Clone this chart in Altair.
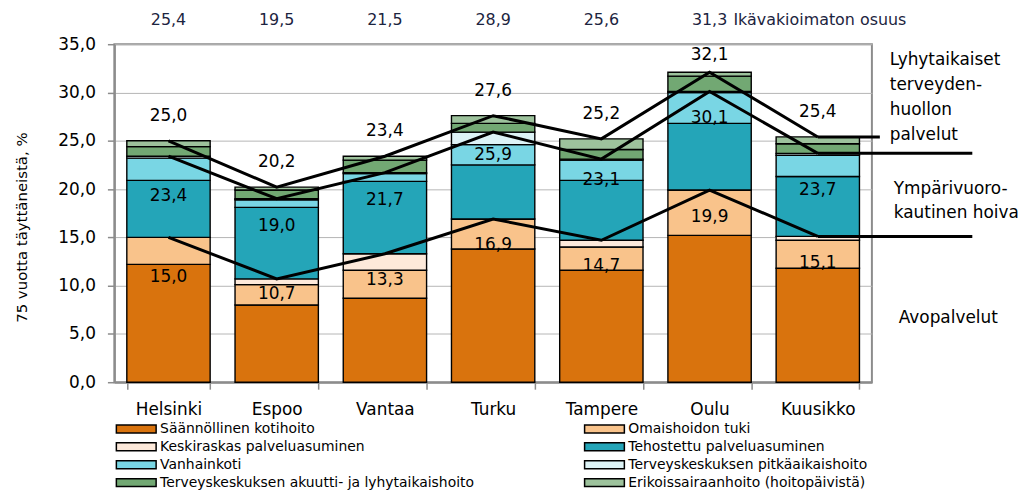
import altair as alt
import pandas as pd

cities = ["Helsinki", "Espoo", "Vantaa", "Turku", "Tampere", "Oulu", "Kuusikko"]
categories = [
    "Säännöllinen kotihoito",
    "Omaishoidon tuki",
    "Keskiraskas palveluasuminen",
    "Tehostettu palveluasuminen",
    "Vanhainkoti",
    "Terveyskeskuksen pitkäaikaishoito",
    "Terveyskeskuksen akuutti- ja lyhytaikaishoito",
    "Erikoissairaanhoito (hoitopäivistä)",
]
colors = ["#D9730D", "#F9C38B", "#FDE9DA", "#24A5B8", "#79D6E4", "#DDF3F6", "#72A873", "#9DC29C"]

saannollinen = [12.2, 8.0, 8.7, 13.8, 11.6, 15.2, 11.8]
omaishoito = [2.8, 2.1, 2.9, 3.1, 2.4, 4.7, 2.9]
keskiraskas = [0.0, 0.6, 1.7, 0.0, 0.7, 0.0, 0.4]
tehostettu = [5.9, 7.4, 7.5, 5.6, 6.2, 6.9, 6.2]
vanhainkoti = [2.3, 0.8, 0.8, 2.1, 2.1, 3.2, 2.2]
tk_pitka = [0.2, 0.1, 0.1, 1.3, 0.1, 0.1, 0.2]
tk_akuutti = [1.0, 0.9, 1.3, 0.9, 1.0, 1.6, 1.0]
erikois = [0.6, 0.3, 0.4, 0.8, 1.1, 0.4, 0.7]

avopalvelut = [15.0, 10.7, 13.3, 16.9, 14.7, 19.9, 15.1]
ymparivuorokautinen = [23.4, 19.0, 21.7, 25.9, 23.1, 30.1, 23.7]
yhteensa = [25.0, 20.2, 23.4, 27.6, 25.2, 32.1, 25.4]

# age-unstandardised share, shown above the plot (no value for Kuusikko)
ika_cities = ["Helsinki", "Espoo", "Vantaa", "Turku", "Tampere", "Oulu"]
ikavakioimaton = [25.4, 19.5, 21.5, 28.9, 25.6, 31.3]

# where the printed value labels sit (axis units)
avo_label_at = [10.9, 9.1, 10.6, 14.2, 12.0, 17.1, 12.3]
ymp_label_at = [19.3, 16.2, 18.9, 23.5, 20.9, 27.4, 19.9]
tot_label_at = [27.6, 22.8, 26.0, 30.2, 27.8, 33.9, 28.0]

series = [saannollinen, omaishoito, keskiraskas, tehostettu, vanhainkoti, tk_pitka, tk_akuutti, erikois]

rows = []
for k, (cat, vals) in enumerate(zip(categories, series)):
    for c, v in zip(cities, vals):
        rows.append({"city": c, "category": cat, "value": v, "k": k})
df = pd.DataFrame(rows)


def fi(v):
    return f"{v:.1f}".replace(".", ",")


lines = []
for lvl, vals in [("avo", avopalvelut), ("ymp", ymparivuorokautinen), ("tot", yhteensa)]:
    for c, v in zip(cities, vals):
        lines.append({"city": c, "level": lvl, "value": v})
df_lines = pd.DataFrame(lines)

labels = []
for vals, pos in [(avopalvelut, avo_label_at), (ymparivuorokautinen, ymp_label_at), (yhteensa, tot_label_at)]:
    for c, v, p in zip(cities, vals, pos):
        labels.append({"city": c, "pos": p, "txt": fi(v)})
df_labels = pd.DataFrame(labels)

df_top = pd.DataFrame({"city": ika_cities, "txt": [fi(v) for v in ikavakioimaton]})

FONT = "DejaVu Sans"
LEGEND_FONT = "DejaVu Sans"

xenc = alt.X(
    "city:N",
    sort=cities,
    scale=alt.Scale(paddingInner=0.23, paddingOuter=0.115),
    axis=alt.Axis(
        title="",
        labelAngle=0,
        labelFont=FONT,
        labelFontSize=17,
        labelColor="black",
        labelPadding=12,
        tickBand="extent",
        tickSize=7,
        tickColor="#8c8c8c",
        tickWidth=1.5,
        domainColor="#8c8c8c",
        domainWidth=2,
    ),
)

bars = alt.Chart(df).mark_bar(stroke="black", strokeWidth=1.4).encode(
    x=xenc,
    y=alt.Y(
        "value:Q",
        stack="zero",
        scale=alt.Scale(domain=[0, 35]),
        axis=alt.Axis(
            title="75 vuotta täyttäneistä, %",
            titleFont=FONT,
            titleFontSize=15,
            titleFontWeight="normal",
            titleColor="black",
            titleX=-93,
            titleY=184,
            titleAngle=270,
            titleAlign="center",
            titleBaseline="middle",
            values=[0, 5, 10, 15, 20, 25, 30, 35],
            labelExpr="replace(format(datum.value, '.1f'), '.', ',')",
            labelFont=FONT,
            labelFontSize=17,
            labelColor="black",
            labelPadding=12,
            tickSize=7,
            tickColor="#8c8c8c",
            tickWidth=1.5,
            domainColor="#8c8c8c",
            domainWidth=2,
            gridColor="#b5b5b5",
            gridWidth=1,
        ),
    ),
    color=alt.Color(
        "category:N",
        scale=alt.Scale(domain=categories, range=colors),
        legend=alt.Legend(
            title=None,
            orient="none",
            direction="horizontal",
            legendX=0,
            legendY=380,
            columns=2,
            symbolType="M-1,-0.8H7V0.8H-1Z",
            symbolSize=100,
            symbolStrokeColor="black",
            symbolStrokeWidth=1.5,
            labelFont=LEGEND_FONT,
            labelFontSize=14,
            labelColor="black",
            labelOffset=32,
            labelLimit=500,
            rowPadding=4,
            columnPadding=107,
            padding=0,
        ),
    ),
    order=alt.Order("k:Q", sort="ascending"),
)

line = alt.Chart(df_lines).mark_line(color="black", strokeWidth=3).encode(
    x=alt.X("city:N", sort=cities),
    y="value:Q",
    detail="level:N",
)

last = cities[-1]
ext_top = alt.Chart(df_lines[(df_lines.city == last) & (df_lines.level == "tot")]).mark_rule(
    color="black", strokeWidth=3
).encode(x=alt.X("city:N", sort=cities), x2=alt.value(770), y="value:Q")
ext_low = alt.Chart(df_lines[(df_lines.city == last) & (df_lines.level != "tot")]).mark_rule(
    color="black", strokeWidth=3
).encode(x=alt.X("city:N", sort=cities), x2=alt.value(863), y="value:Q")

val_text = alt.Chart(df_labels).mark_text(font=FONT, fontSize=17, color="black").encode(
    x=alt.X("city:N", sort=cities), y="pos:Q", text="txt:N"
)

top_text = alt.Chart(df_top).mark_text(font=FONT, fontSize=16, color="#1c2440").encode(
    x=alt.X("city:N", sort=cities), y=alt.value(-24), text="txt:N"
)
top_note = alt.Chart(df_top[df_top.city == "Oulu"]).mark_text(
    font=FONT, fontSize=16, color="#1c2440", align="left", dx=24
).encode(x=alt.X("city:N", sort=cities), y=alt.value(-24), text=alt.value("Ikävakioimaton osuus"))

note1 = alt.Chart(df_top.head(1)).mark_text(
    font=FONT, fontSize=17, color="black", align="left", baseline="top", lineHeight=25
).encode(x=alt.value(780), y=alt.value(8), text=alt.value(["Lyhytaikaiset", "terveyden-", "huollon", "palvelut"]))
note2 = alt.Chart(df_top.head(1)).mark_text(
    font=FONT, fontSize=17, color="black", align="left", baseline="top", lineHeight=24
).encode(x=alt.value(784), y=alt.value(138), text=alt.value(["Ympärivuoro-", "kautinen hoiva"]))
note3 = alt.Chart(df_top.head(1)).mark_text(
    font=FONT, fontSize=17, color="black", align="left", baseline="middle"
).encode(x=alt.value(789), y=alt.value(275), text=alt.value("Avopalvelut"))

chart = (
    alt.layer(bars, line, ext_top, ext_low, val_text, top_text, top_note, note1, note2, note3)
    .properties(
        width=762,
        height=340,
        autosize=alt.AutoSizeParams(type="none"),
        padding={"left": 107, "top": 35, "right": 153, "bottom": 108},
    )
    .configure_view(stroke="#8c8c8c", strokeWidth=2)
)

chart.save("out.html", embed_options={"renderer": "svg", "actions": False})
